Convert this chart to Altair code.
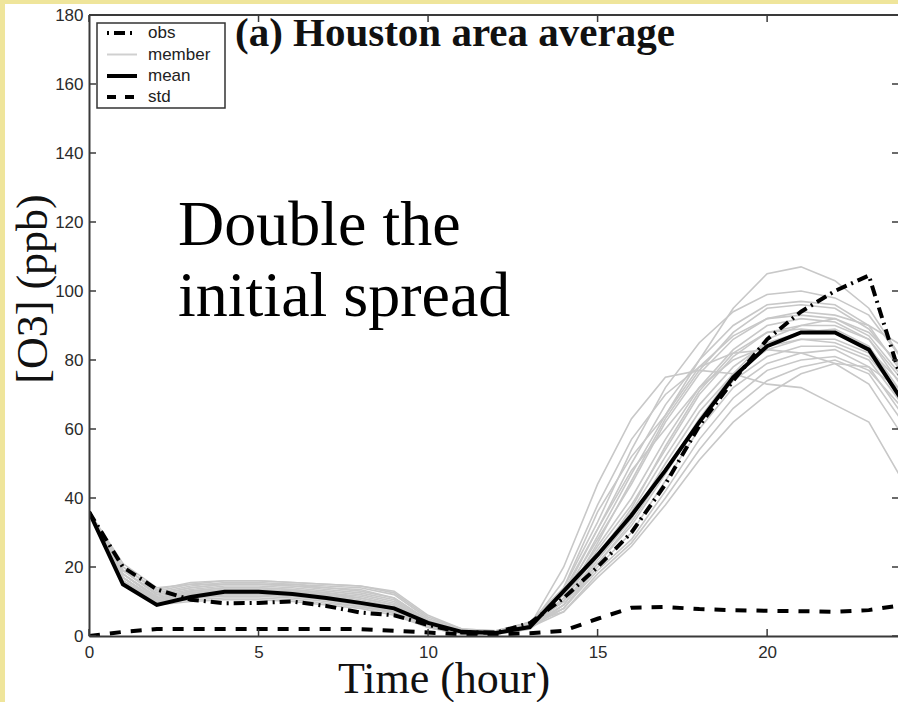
import altair as alt
import pandas as pd

# ---------------- data ----------------
hours = list(range(25))
x_ticks = [0, 5, 10, 15, 20]
y_ticks = [0, 20, 40, 60, 80, 100, 120, 140, 160, 180]

obs = [36, 20, 13.5, 10.5, 9.5, 9.6, 10, 8.7, 6.8, 6, 3.2, 1, 1, 3.7,
       11, 20, 30, 44, 61, 74, 86, 94, 100, 104.5, 73]
ens_mean = [36, 15, 9, 11.3, 12.8, 12.8, 12.2, 11, 9.6, 8, 3.8, 1.2, 0.9, 2.6,
            13, 23.5, 35, 48, 62, 75, 84, 88, 88, 83, 68]
ens_std = [0, 1.2, 2, 2, 2, 2, 2, 2, 2, 1.5, 1, 0.5, 0.5, 0.8,
           1.5, 5, 8.2, 8.4, 7.8, 7.5, 7.3, 7.2, 7, 7.5, 9]

m01 = [36, 17, 10, 11, 12, 12, 11.5, 10.5, 9, 7, 3, 1, 0.5, 3, 20, 44, 63, 75, 77, 76, 73, 72, 67, 62, 45]
m02 = [36, 20, 13, 15, 16, 16, 15.5, 15, 14.5, 13, 6, 2, 1, 4, 14, 36, 52, 64, 80, 95, 105, 107, 103, 95, 80]
m03 = [36, 18, 11, 13, 14, 14, 13.5, 12.5, 11, 9, 4, 1.5, 1, 3, 14, 33, 54, 72, 85, 94, 99, 100, 98, 93, 80]
m04 = [36, 16, 10, 12, 13, 13, 12.5, 11.5, 10, 8, 3.5, 1, 1, 3, 13, 31, 50, 67, 80, 90, 96, 97, 96, 90, 76]
m05 = [36, 21, 14, 15, 15, 15, 15, 14.5, 14, 12, 5, 2, 1.5, 4, 12, 28, 44, 62, 76, 86, 92, 93, 92, 88, 78]
m06 = [36, 15, 9, 10, 10.5, 10.5, 10, 9, 8, 6, 2.5, 0.5, 0.5, 2, 11, 26, 40, 57, 72, 83, 90, 92, 91, 86, 74]
m07 = [36, 19, 12, 14, 15, 15, 14.5, 14, 13.5, 11, 4.5, 1.5, 1, 3.5, 10, 25, 38, 54, 70, 81, 88, 90, 90, 86, 72]
m08 = [36, 16, 9.5, 11, 11.5, 11.5, 11, 10, 8.5, 7, 3, 1, 1, 3, 10, 24, 36, 52, 67, 78, 85, 88, 89, 84, 70]
m09 = [36, 18, 11.5, 13.5, 14.5, 14.5, 14, 13, 12, 10, 4, 1.5, 1, 3, 9, 22, 34, 50, 65, 76, 83, 86, 86, 82, 68]
m10 = [36, 17, 10.5, 12.5, 13.5, 13.5, 13, 12, 10.5, 8.5, 3.5, 1, 1, 3, 9, 21, 32, 47, 62, 74, 81, 84, 84, 80, 67]
m11 = [36, 19, 12.5, 14.5, 15.5, 15.5, 15, 14, 13, 11, 4.5, 1.5, 1, 3.5, 8, 20, 30, 45, 60, 72, 79, 82, 83, 78, 64]
m12 = [36, 16, 10, 11.5, 12.5, 12.5, 12, 11, 9.5, 7.5, 3, 1, 0.5, 2.5, 8, 19, 28, 42, 57, 69, 77, 80, 81, 77, 66]
m13 = [36, 20, 13.5, 15.5, 16, 16, 15.5, 15, 14.5, 12.5, 5.5, 2, 1.5, 4, 7, 18, 27, 40, 54, 66, 74, 78, 80, 76, 62]
m14 = [36, 17, 10, 12, 13, 13, 12.5, 11.5, 10, 8, 3.5, 1, 1, 3, 10, 27, 45, 63, 77, 88, 95, 96, 95, 89, 77]
m15 = [36, 18, 11, 13, 14, 14, 13.5, 12.5, 11.5, 9.5, 4, 1.5, 1, 3, 11, 29, 47, 64, 78, 87, 92, 94, 93, 90, 84]
m16 = [36, 15.5, 9.5, 10.5, 11, 11, 10.5, 9.5, 8.5, 6.5, 2.5, 0.5, 0.5, 2, 9, 23, 37, 55, 71, 82, 88, 89, 88, 83, 73]
m17 = [36, 19, 12, 14, 15, 15, 14.5, 13.5, 12.5, 10.5, 4, 1.5, 1, 3.5, 12, 31, 48, 60, 72, 80, 84, 86, 85, 81, 69]
m18 = [36, 17, 10.5, 12, 13, 13, 12.5, 11.5, 10, 8, 3.5, 1, 1, 3, 8, 21, 33, 48, 63, 76, 86, 90, 92, 87, 75]
m19 = [36, 18, 11, 12.5, 13.5, 13.5, 13, 12, 11, 9, 3.5, 1, 1, 3, 16, 38, 57, 70, 78, 82, 83, 82, 79, 73, 58]
m20 = [36, 16, 9.5, 11, 12, 12, 11.5, 10.5, 9, 7, 3, 1, 0.5, 2.5, 7, 17, 26, 38, 51, 62, 70, 76, 79, 78, 71]
members = [m01, m02, m03, m04, m05, m06, m07, m08, m09, m10,
           m11, m12, m13, m14, m15, m16, m17, m18, m19, m20]

legend_labels = ["obs", "member", "mean", "std"]

# ---------------- tables ----------------
rows = []
for i, m in enumerate(members):
    for h, v in zip(hours, m):
        rows.append({"member": f"m{i + 1:02d}", "hour": h, "o3": v})
df_mem = pd.DataFrame(rows)
df_obs = pd.DataFrame({"hour": hours, "o3": obs})
df_mean = pd.DataFrame({"hour": hours, "o3": ens_mean})
df_std = pd.DataFrame({"hour": hours, "o3": ens_std})
df_xt = pd.DataFrame({"hour": x_ticks})
df_yt = pd.DataFrame({"o3": y_ticks})
one = pd.DataFrame({"a": [0]})

# ---------------- layout ----------------
W, H = 809, 621
PL, PT, PB = 89, 15, 66
AX = "#3a3a3a"

xs = alt.Scale(domain=[0, 23.86], nice=False, zero=False)
ys = alt.Scale(domain=[0, 180], nice=False, zero=False)
xaxis = alt.Axis(values=x_ticks, title=None, ticks=False, tickSize=0, labelPadding=8,
                 labelFont="Liberation Sans", labelFontSize=17, labelColor="#2b2b2b",
                 domainColor=AX, domainWidth=2, grid=False, labelFlush=False,
                 labelOverlap=False, zindex=2)
yaxis = alt.Axis(values=y_ticks, title=None, ticks=False, tickSize=0, labelPadding=6,
                 labelFont="Liberation Sans", labelFontSize=17, labelColor="#2b2b2b",
                 domainColor=AX, domainWidth=2, grid=False, labelFlush=False,
                 labelOverlap=False, zindex=2)

X = alt.X("hour:Q", scale=xs, axis=xaxis)
Y = alt.Y("o3:Q", scale=ys, axis=yaxis)

layers = []

# white paper
layers.append(alt.Chart(one).mark_rect(color="white").encode(
    x=alt.value(-PL + 5), x2=alt.value(W + 5), y=alt.value(-PT + 4), y2=alt.value(H + PB + 5)))

# members
layers.append(alt.Chart(df_mem).mark_line(color="#c8c8c8", strokeWidth=1.6, clip=True).encode(
    x=X, y=Y, detail="member:N"))
# std
layers.append(alt.Chart(df_std).mark_line(color="black", strokeWidth=4, strokeDash=[11, 10],
                                          clip=True).encode(x=X, y=Y))
# mean
layers.append(alt.Chart(df_mean).mark_line(color="black", strokeWidth=4, clip=True).encode(x=X, y=Y))
# obs
layers.append(alt.Chart(df_obs).mark_line(color="black", strokeWidth=4, strokeDash=[11, 5, 2, 5],
                                          clip=True).encode(x=X, y=Y))

# inward ticks on all four sides
layers.append(alt.Chart(df_yt).mark_rule(color=AX, strokeWidth=1.5).encode(
    y=Y, x=alt.value(0), x2=alt.value(7)))
layers.append(alt.Chart(df_yt).mark_rule(color=AX, strokeWidth=1.5).encode(
    y=Y, x=alt.value(W - 6), x2=alt.value(W)))
layers.append(alt.Chart(df_xt).mark_rule(color=AX, strokeWidth=1.5).encode(
    x=X, y=alt.value(H - 7), y2=alt.value(H)))
layers.append(alt.Chart(df_xt).mark_rule(color=AX, strokeWidth=1.5).encode(
    x=X, y=alt.value(0), y2=alt.value(7)))
# top frame line
layers.append(alt.Chart(one).mark_rule(color=AX, strokeWidth=2).encode(
    x=alt.value(0), x2=alt.value(W), y=alt.value(0)))

# legend box
layers.append(alt.Chart(one).mark_rect(fill="white", stroke="#333333", strokeWidth=1.5).encode(
    x=alt.value(8), x2=alt.value(136), y=alt.value(8), y2=alt.value(93)))
leg_y = [18, 39.5, 61, 82]
leg_styles = [
    dict(color="black", strokeWidth=4, strokeDash=[2, 5, 11, 5]),
    dict(color="#d0d0d0", strokeWidth=2),
    dict(color="black", strokeWidth=4),
    dict(color="black", strokeWidth=4, strokeDash=[9, 9]),
]
for lab, yy, st in zip(legend_labels, leg_y, leg_styles):
    layers.append(alt.Chart(one).mark_rule(**st).encode(
        x=alt.value(18), x2=alt.value(48), y=alt.value(yy)))
    layers.append(alt.Chart(one).mark_text(text=lab, font="Liberation Sans", fontSize=17,
                                           align="left", baseline="middle", color="#222222").encode(
        x=alt.value(59), y=alt.value(yy)))

# titles and annotation
layers.append(alt.Chart(one).mark_text(text="(a) Houston area average", font="Liberation Serif",
                                       fontSize=41, fontWeight="bold", align="left",
                                       baseline="alphabetic", color="#111111").encode(
    x=alt.value(146), y=alt.value(31)))
layers.append(alt.Chart(one).mark_text(text="Double the", font="Liberation Serif", fontSize=64,
                                       align="left", baseline="alphabetic", color="black").encode(
    x=alt.value(89), y=alt.value(230)))
layers.append(alt.Chart(one).mark_text(text="initial spread", font="Liberation Serif", fontSize=64,
                                       align="left", baseline="alphabetic", color="black").encode(
    x=alt.value(89), y=alt.value(301)))
layers.append(alt.Chart(one).mark_text(text="Time (hour)", font="Liberation Serif", fontSize=44,
                                       align="center", baseline="alphabetic", color="#111111").encode(
    x=alt.value(355), y=alt.value(678)))
layers.append(alt.Chart(one).mark_text(text="[O3] (ppb)", font="Liberation Serif", fontSize=44,
                                       angle=270, align="center", baseline="middle",
                                       color="#111111").encode(
    x=alt.value(-55), y=alt.value(274)))

chart = alt.layer(*layers).properties(
    width=W, height=H,
    padding={"left": PL, "top": PT, "right": 0, "bottom": PB},
    autosize=alt.AutoSizeParams(type="none"),
    background="#EFE59B",
).configure_view(stroke=None)

chart.save("out.html", embed_options={"renderer": "svg", "actions": False})
